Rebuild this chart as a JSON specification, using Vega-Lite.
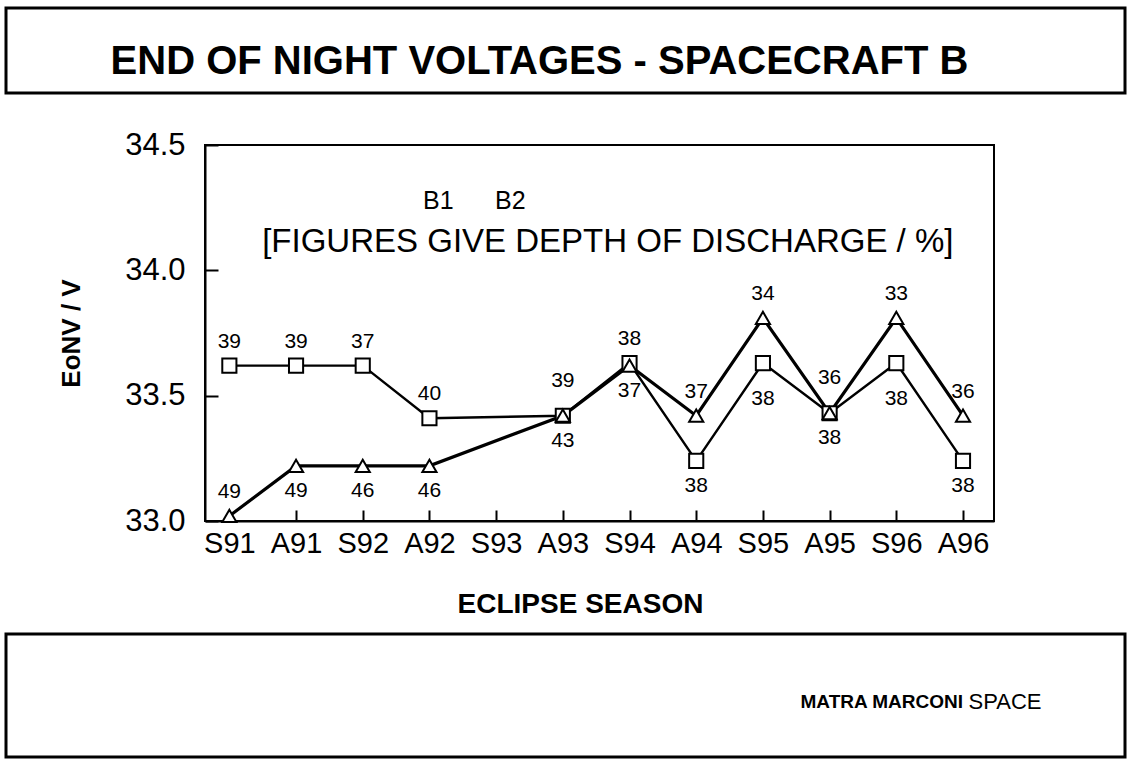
{
  "$schema": "https://vega.github.io/schema/vega-lite/v6.json",
  "background": "white",
  "padding": {"left": 4, "top": 6, "right": 0, "bottom": 0},
  "config": {
    "font": "Liberation Sans",
    "view": {"stroke": "black", "strokeWidth": 2},
    "axis": {"labelColor": "black", "titleColor": "black", "tickColor": "black", "domainColor": "black", "grid": false}
  },
  "concat": [
    {
      "width": 1119,
      "height": 85,
      "view": {"stroke": "black", "strokeWidth": 3},
      "data": {"values": [{"t": "END OF NIGHT VOLTAGES - SPACECRAFT B"}]},
      "mark": {"type": "text", "fontSize": 40, "fontWeight": "bold", "dx": -26, "dy": 11, "color": "black"},
      "encoding": {"text": {"field": "t"}}
    },
    {
      "concat": [
        {
          "hconcat": [
            {
              "width": 51,
              "height": 10,
              "view": {"stroke": null},
              "data": {"values": [{"t": ""}]},
              "mark": {"type": "text"},
              "encoding": {"text": {"field": "t"}}
            },
            {
              "width": 789,
              "height": 376,
              "data": {
                "values": [
                  {"season": "S91", "series": "B2", "voltage": 33.62, "dod": 39},
                  {"season": "A91", "series": "B2", "voltage": 33.62, "dod": 39},
                  {"season": "S92", "series": "B2", "voltage": 33.62, "dod": 37},
                  {"season": "A92", "series": "B2", "voltage": 33.41, "dod": 40},
                  {"season": "A93", "series": "B2", "voltage": 33.42, "dod": 39},
                  {"season": "S94", "series": "B2", "voltage": 33.63, "dod": 38},
                  {"season": "A94", "series": "B2", "voltage": 33.24, "dod": 38},
                  {"season": "S95", "series": "B2", "voltage": 33.63, "dod": 38},
                  {"season": "A95", "series": "B2", "voltage": 33.43, "dod": 38},
                  {"season": "S96", "series": "B2", "voltage": 33.63, "dod": 38},
                  {"season": "A96", "series": "B2", "voltage": 33.24, "dod": 38},
                  {"season": "S91", "series": "B1", "voltage": 33.02, "dod": 49},
                  {"season": "A91", "series": "B1", "voltage": 33.22, "dod": 49},
                  {"season": "S92", "series": "B1", "voltage": 33.22, "dod": 46},
                  {"season": "A92", "series": "B1", "voltage": 33.22, "dod": 46},
                  {"season": "A93", "series": "B1", "voltage": 33.42, "dod": 43},
                  {"season": "S94", "series": "B1", "voltage": 33.62, "dod": 37},
                  {"season": "A94", "series": "B1", "voltage": 33.42, "dod": 37},
                  {"season": "S95", "series": "B1", "voltage": 33.81, "dod": 34},
                  {"season": "A95", "series": "B1", "voltage": 33.43, "dod": 36},
                  {"season": "S96", "series": "B1", "voltage": 33.81, "dod": 33},
                  {"season": "A96", "series": "B1", "voltage": 33.42, "dod": 36}
                ]
              },
              "encoding": {
                "x": {
                  "field": "season",
                  "type": "ordinal",
                  "sort": null,
                  "scale": {"domain": ["S91", "A91", "S92", "A92", "S93", "A93", "S94", "A94", "S95", "A95", "S96", "A96"], "type": "point", "padding": 0.415, "align": 0.44},
                  "axis": {"title": "ECLIPSE SEASON", "labelAngle": 0, "tickSize": -11, "tickWidth": 2, "domainWidth": 2, "labelFontSize": 29, "labelPadding": 19, "titleFontSize": 28, "titleFontWeight": "bold", "titlePadding": 32, "titleX": 375}
                },
                "y": {
                  "field": "voltage",
                  "type": "quantitative",
                  "scale": {"domain": [33, 34.5], "zero": false, "nice": false},
                  "axis": {"title": "EoNV / V", "values": [33, 33.5, 34, 34.5], "format": ".1f", "tickSize": -13, "tickWidth": 2, "domainWidth": 2, "labelFontSize": 31, "labelPadding": 33, "titleFontSize": 26, "titleFontWeight": "bold", "titlePadding": 40}
                }
              },
              "layer": [
                {
                  "transform": [{"filter": "datum.series == 'B2'"}],
                  "mark": {"type": "line", "color": "black", "strokeWidth": 2.4},
                  "encoding": {"order": {"value": null}}
                },
                {
                  "transform": [{"filter": "datum.series == 'B1'"}],
                  "mark": {"type": "line", "color": "black", "strokeWidth": 3.2},
                  "encoding": {"order": {"value": null}}
                },
                {
                  "mark": {"type": "point", "filled": false, "color": "black", "fill": "white", "fillOpacity": 1, "stroke": "black", "strokeWidth": 2, "opacity": 1, "size": 200},
                  "encoding": {
                    "shape": {
                      "field": "series",
                      "type": "nominal",
                      "scale": {"domain": ["B1", "B2"], "range": ["triangle-up", "square"]},
                      "legend": {
                        "title": null,
                        "orient": "none",
                        "legendX": 384,
                        "legendY": 180,
                        "direction": "horizontal",
                        "labelFontSize": 25,
                        "labelColor": "black",
                        "labelOffset": 8,
                        "columnPadding": 8,
                        "padding": 0,
                        "symbolSize": 560,
                        "symbolStrokeWidth": 0,
                        "symbolFillColor": "black",
                        "symbolOpacity": 1,
                        "encode": {
                          "symbols": {
                            "shape": {"value": {"expr": "datum.value === 'B1' ? 'M-1,-0.07L-0.52,-0.07L-0.52,0.07L-1,0.07ZM0.52,-0.07L1,-0.07L1,0.07L0.52,0.07ZM-0.62,0.42L0,-0.5L0.62,0.42ZM-0.34,0.27L0.34,0.27L0,-0.22Z' : 'M-1,-0.07L-0.45,-0.07L-0.45,0.07L-1,0.07ZM0.45,-0.07L1,-0.07L1,0.07L0.45,0.07ZM-0.45,-0.4L0.45,-0.4L0.45,0.4L-0.45,0.4ZM-0.28,-0.23L-0.28,0.23L0.28,0.23L0.28,-0.23Z'"}},
                            "fill": {"value": "black"},
                            "fillOpacity": {"value": 1},
                            "strokeWidth": {"value": 0},
                            "opacity": {"value": 1}
                          }
                        }
                      }
                    }
                  }
                },
                {
                  "transform": [{"filter": "(datum.series == 'B2' && indexof(['S91','A91','S92','A92','S94'], datum.season) >= 0) || (datum.series == 'B1' && indexof(['S91','A94','S95','S96','A96'], datum.season) >= 0)"}],
                  "mark": {"type": "text", "fontSize": 21, "dy": -24, "color": "black"},
                  "encoding": {"text": {"field": "dod"}}
                },
                {
                  "transform": [{"filter": "(datum.series == 'B2' && datum.season == 'A93') || (datum.series == 'B1' && datum.season == 'A95')"}],
                  "mark": {"type": "text", "fontSize": 21, "dy": -35, "color": "black"},
                  "encoding": {"text": {"field": "dod"}}
                },
                {
                  "transform": [{"filter": "(datum.series == 'B1' && indexof(['A91','S92','A92','A93','S94'], datum.season) >= 0) || (datum.series == 'B2' && indexof(['A94','A95','A96'], datum.season) >= 0)"}],
                  "mark": {"type": "text", "fontSize": 21, "dy": 25, "color": "black"},
                  "encoding": {"text": {"field": "dod"}}
                },
                {
                  "transform": [{"filter": "datum.series == 'B2' && indexof(['S95','S96'], datum.season) >= 0"}],
                  "mark": {"type": "text", "fontSize": 21, "dy": 36, "color": "black"},
                  "encoding": {"text": {"field": "dod"}}
                },
                {
                  "transform": [{"filter": "datum.series == 'B2' && datum.season == 'A93'"}],
                  "mark": {"type": "text", "fontSize": 33, "dx": 45, "dy": -174, "color": "black"},
                  "encoding": {
                    "text": {"value": "[FIGURES GIVE DEPTH OF DISCHARGE / %]"}
                  }
                }
              ]
            }
          ],
          "spacing": 0
        },
        {
          "width": 1119,
          "height": 123,
          "view": {"stroke": "black", "strokeWidth": 3},
          "data": {"values": [{"a": "MATRA MARCONI", "b": "SPACE"}]},
          "layer": [
            {
              "mark": {"type": "text", "fontSize": 19, "fontWeight": "bold", "align": "left", "dx": 235, "dy": 6, "color": "black"},
              "encoding": {"text": {"field": "a"}}
            },
            {
              "mark": {"type": "text", "fontSize": 22, "align": "left", "dx": 403, "dy": 6, "color": "black"},
              "encoding": {"text": {"field": "b"}}
            }
          ]
        }
      ],
      "columns": 1,
      "align": "none",
      "spacing": 13
    }
  ],
  "columns": 1,
  "align": "none",
  "spacing": 33
}
